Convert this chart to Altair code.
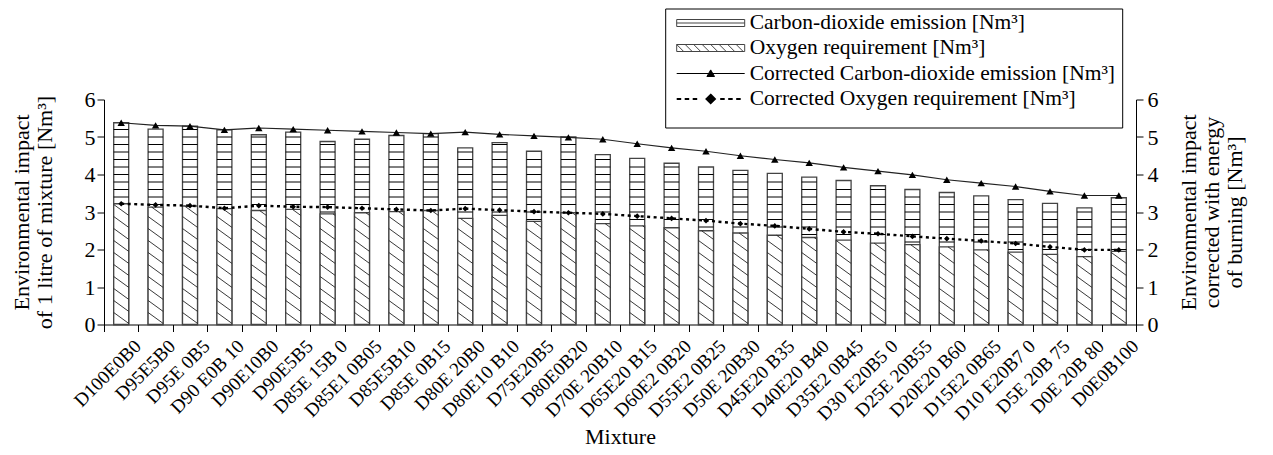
import json
import altair as alt
import pandas as pd

# ---------------- data ----------------
labels = ["D100E0B0", "D95E5B0", "D95E 0B5", "D90 E0B 10", "D90E10B0", "D90E5B5",
          "D85E 15B 0", "D85E1 0B05", "D85E5B10", "D85E 0B15", "D80E 20B0", "D80E10 B10",
          "D75E20B5", "D80E0B20", "D70E 20B10", "D65E20 B15", "D60E2 0B20", "D55E2 0B25",
          "D50E 20B30", "D45E20 B35", "D40E20 B40", "D35E2 0B45", "D30 E20B5 0", "D25E 20B55",
          "D20E20 B60", "D15E2 0B65", "D10 E20B7 0", "D5E 20B 75", "D0E 20B 80", "D0E0B100"]
co2 = [5.38, 5.21, 5.29, 5.19, 5.06, 5.13, 4.88, 4.94, 5.04, 5.09, 4.71, 4.85, 4.62, 5.00, 4.53,
       4.43, 4.30, 4.20, 4.11, 4.03, 3.93, 3.84, 3.70, 3.60, 3.52, 3.43, 3.33, 3.23, 3.11, 3.38]
o2 = [3.22, 3.13, 3.16, 3.09, 3.04, 3.07, 2.95, 2.98, 3.01, 3.04, 2.83, 2.91, 2.75, 2.98, 2.69,
      2.63, 2.58, 2.50, 2.44, 2.38, 2.32, 2.25, 2.17, 2.13, 2.07, 1.99, 1.93, 1.87, 1.81, 1.95]
co2_corr = [5.38, 5.31, 5.29, 5.19, 5.24, 5.21, 5.18, 5.15, 5.12, 5.09, 5.13, 5.07, 5.03, 4.99, 4.94,
            4.82, 4.71, 4.62, 4.50, 4.40, 4.31, 4.19, 4.09, 3.99, 3.86, 3.77, 3.68, 3.55, 3.44, 3.44]
o2_corr = [3.22, 3.19, 3.17, 3.10, 3.17, 3.14, 3.13, 3.10, 3.07, 3.04, 3.09, 3.05, 3.01, 2.98, 2.95,
           2.89, 2.83, 2.77, 2.69, 2.63, 2.55, 2.47, 2.42, 2.35, 2.29, 2.23, 2.16, 2.07, 1.99, 1.99]

legend_labels = ["Carbon-dioxide emission [Nm³]", "Oxygen requirement [Nm³]",
                 "Corrected Carbon-dioxide emission [Nm³]", "Corrected Oxygen requirement [Nm³]"]
left_title = ["Environmental impact", "of 1 litre of mixture [Nm³]"]
right_title = ["Environmental impact", "corrected with energy", "of burning [Nm³]"]
y_ticks = [0, 1, 2, 3, 4, 5, 6]

# ---------------- layout / style ----------------
FONT = "Liberation Serif"
W, H = 1032, 225
n = len(labels)
HW = 0.218          # half bar width in category units
H_STEP = 0.2        # horizontal hatch spacing (value units)
D_DROP = 0.29       # diagonal hatch drop across a bar
D_STEP = 0.32       # diagonal hatch spacing
BAR_STROKE = "#444444"

df = pd.DataFrame({"idx": list(range(n)), "label": labels, "co2": co2, "o2": o2,
                   "co2c": co2_corr, "o2c": o2_corr})
df["xl"] = df["idx"] - HW
df["xr"] = df["idx"] + HW
df["zero"] = 0.0

# horizontal hatch for the CO2 bars (visible part above the O2 bar)
hrows = []
for i, (c, o) in enumerate(zip(co2, o2)):
    k = 1
    while k * H_STEP < c - 0.04:
        y = k * H_STEP
        if y > o + 0.04:
            hrows.append({"xl": i - HW, "xr": i + HW, "hy": y})
        k += 1
hdf = pd.DataFrame(hrows)

# diagonal hatch for the O2 bars, clipped to each bar
drows = []
for i, top in enumerate(o2):
    xl, w = i - HW, 2 * HW
    k = 1
    while k * D_STEP - D_DROP < top:
        c = k * D_STEP
        t0 = max(0.0, (c - top) / D_DROP)
        t1 = min(1.0, c / D_DROP)
        if t1 - t0 > 0.03:
            drows.append({"dx1": xl + w * t0, "dy1": c - D_DROP * t0,
                          "dx2": xl + w * t1, "dy2": c - D_DROP * t1})
        k += 1
ddf = pd.DataFrame(drows)

label_expr = "(" + json.dumps(labels) + ")[round(datum.value + 0.5)] || ''"

xscale = alt.Scale(domain=[-0.5, n - 0.5], nice=False, zero=False)
xaxis = alt.Axis(values=[i - 0.5 for i in range(n + 1)], labelExpr=label_expr,
                 labelAngle=-45, labelAlign="right", labelBaseline="top",
                 labelOffset=27, labelPadding=5, labelFont=FONT, labelFontSize=19,
                 labelColor="black", labelOverlap=False, labelFlush=False, labelBound=False,
                 tickSize=7, tickColor="black", domainColor="black", grid=False,
                 title="Mixture", titleFont=FONT, titleFontSize=22, titleFontWeight="normal",
                 titleColor="black", titleX=W / 2, titleY=118.5, titleAlign="center",
                 titleBaseline="alphabetic", titleAngle=0)

yscale = alt.Scale(domain=[0, 6], nice=False, zero=True)
yaxis_left = alt.Axis(values=y_ticks, tickSize=7, labelPadding=2, labelFont=FONT,
                      labelFontSize=22, labelColor="black", tickColor="black",
                      domainColor="black", grid=False, title=left_title, titleFont=FONT,
                      titleFontSize=22, titleFontWeight="normal", titleColor="black",
                      titleAngle=-90, titleAlign="center", titleBaseline="top",
                      titleX=-93, titleY=H / 2, titleLineHeight=23)
yaxis_right = alt.Axis(orient="right", values=y_ticks, tickSize=7, labelPadding=4,
                       labelFont=FONT, labelFontSize=22, labelColor="black",
                       tickColor="black", domainColor="black", grid=False,
                       title=right_title, titleFont=FONT, titleFontSize=22,
                       titleFontWeight="normal", titleColor="black", titleAngle=-90,
                       titleAlign="center", titleBaseline="top", titleX=42, titleY=H / 2,
                       titleLineHeight=23)

base = alt.Chart(df)

co2_bar = base.mark_rect(fill="white", stroke=BAR_STROKE, strokeWidth=1.3).encode(
    x=alt.X("xl:Q", scale=xscale, axis=xaxis), x2="xr:Q",
    y=alt.Y("co2:Q", scale=yscale, axis=yaxis_left), y2="zero:Q")
co2_hatch = alt.Chart(hdf).mark_rule(color="#000000", strokeWidth=1.0).encode(
    x=alt.X("xl:Q", scale=xscale, axis=xaxis), x2="xr:Q",
    y=alt.Y("hy:Q", scale=yscale, axis=yaxis_left))
o2_bar = base.mark_rect(fill="white", stroke=BAR_STROKE, strokeWidth=1.3).encode(
    x=alt.X("xl:Q", scale=xscale, axis=xaxis), x2="xr:Q",
    y=alt.Y("o2:Q", scale=yscale, axis=yaxis_left), y2="zero:Q")
o2_hatch = alt.Chart(ddf).mark_rule(color="#222222", strokeWidth=0.9).encode(
    x=alt.X("dx1:Q", scale=xscale, axis=xaxis), x2="dx2:Q",
    y=alt.Y("dy1:Q", scale=yscale, axis=yaxis_left), y2="dy2:Q")

left = alt.layer(co2_bar, co2_hatch, o2_bar, o2_hatch)

co2c_line = base.mark_line(color="#222222", strokeWidth=1.2).encode(
    x=alt.X("idx:Q", scale=xscale, axis=xaxis),
    y=alt.Y("co2c:Q", scale=yscale, axis=yaxis_right))
co2c_pts = base.mark_point(shape="triangle-up", filled=True, color="black", size=55,
                           opacity=1).encode(
    x=alt.X("idx:Q", scale=xscale, axis=xaxis),
    y=alt.Y("co2c:Q", scale=yscale, axis=yaxis_right))
o2c_line = base.mark_line(color="black", strokeWidth=2.4, strokeDash=[3, 3.5]).encode(
    x=alt.X("idx:Q", scale=xscale, axis=xaxis),
    y=alt.Y("o2c:Q", scale=yscale, axis=yaxis_right))
o2c_pts = base.mark_point(shape="diamond", filled=True, color="black", size=32,
                          opacity=1).encode(
    x=alt.X("idx:Q", scale=xscale, axis=xaxis),
    y=alt.Y("o2c:Q", scale=yscale, axis=yaxis_right))

right = alt.layer(co2c_line, o2c_line, co2c_pts, o2c_pts)

# ---------------- legend (drawn as annotations) ----------------
one = pd.DataFrame({"a": [0]})
LX_BOX0, LX_BOX1 = 561.7, 1018.7
LY_BOX0, LY_BOX1 = -90.5, 28.5
SYM_X, TXT_X = 606.7, 645.7
ROWS = [-76.5, -51.5, -26.0, -0.5]

rect_path = "M-3.4,-0.35L3.4,-0.35L3.4,0.35L-3.4,0.35Z"
sym_h = rect_path + "M-3.4,0L3.4,0"
diag = ""
x0 = -3.4
while x0 < 3.4:
    xe = min(x0 + 0.7, 3.4)
    ye = -0.35 + (xe - x0)
    diag += f"M{x0:.2f},-0.35L{xe:.2f},{ye:.2f}"
    x0 += 0.85
sym_d = rect_path + diag
sym_t = "M-3.4,0L3.4,0M-0.38,0.3L0,-0.36L0.38,0.3Z"
dashes = "".join(f"M{a:.2f},0L{a + 0.45:.2f},0" for a in [-3.4, -2.6, -1.8, 0.95, 1.75, 2.55])
sym_dm = dashes + "M0,-0.42L0.42,0L0,0.42L-0.42,0Z"

legend_layers = [
    alt.Chart(one).mark_rect(fill="white", stroke="black", strokeWidth=1).encode(
        x=alt.value(LX_BOX0), x2=alt.value(LX_BOX1), y=alt.value(LY_BOX0), y2=alt.value(LY_BOX1))
]
sym_specs = [
    (sym_h, "white", BAR_STROKE, 1.0),
    (sym_d, "white", BAR_STROKE, 1.0),
    (sym_t, "black", "black", 1.0),
    (sym_dm, "black", "black", 2.0),
]
for (path, fill, stroke, sw), row, text in zip(sym_specs, ROWS, legend_labels):
    legend_layers.append(
        alt.Chart(one).mark_point(shape=path, filled=True, fill=fill, stroke=stroke,
                                  strokeWidth=sw, size=400, opacity=1).encode(
            x=alt.value(SYM_X), y=alt.value(row)))
    legend_layers.append(
        alt.Chart(one).mark_text(align="left", baseline="middle", font=FONT, fontSize=21.5,
                                 color="black").encode(
            x=alt.value(TXT_X), y=alt.value(row), text=alt.value(text)))

chart = alt.layer(left, right, *legend_layers).resolve_scale(y="independent").properties(
    width=W, height=H,
    autosize=alt.AutoSizeParams(type="none"),
    padding={"left": 96, "top": 91.5, "right": 129, "bottom": 122.5},
    background="white",
).configure_view(stroke=None)

chart.save("out.html", embed_options={"renderer": "svg", "actions": False})
